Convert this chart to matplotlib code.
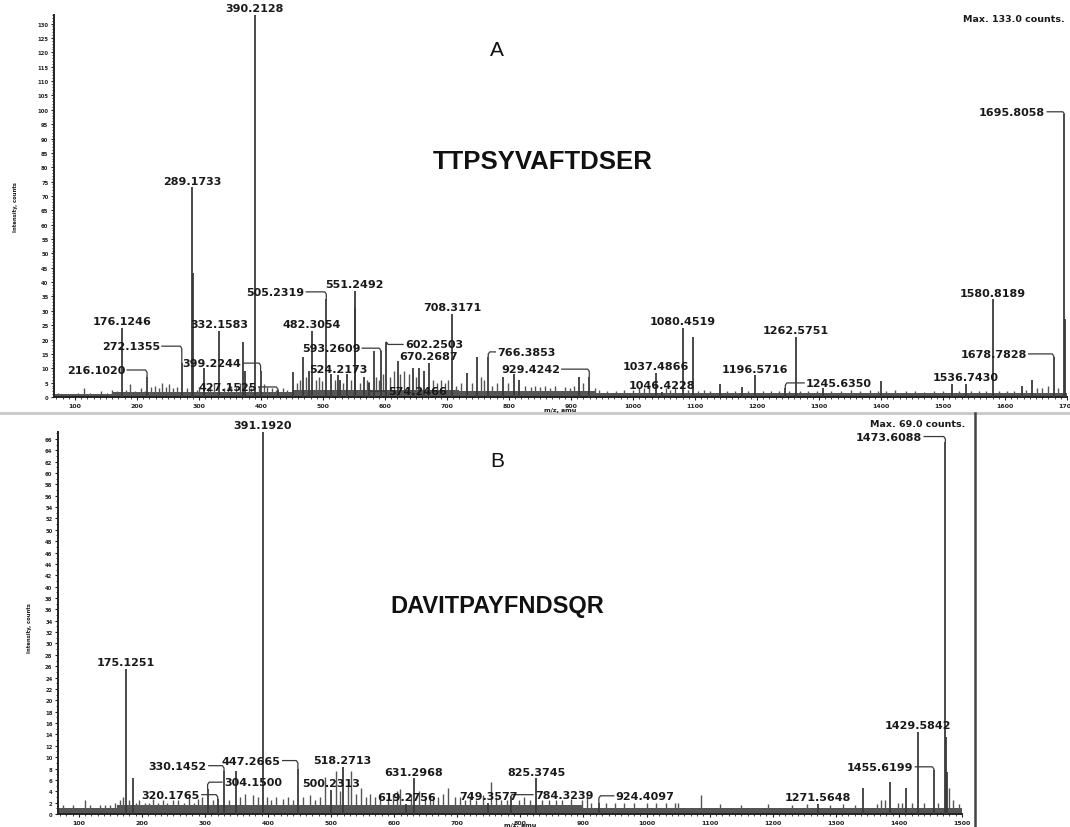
import matplotlib
matplotlib.use('Agg')
import matplotlib.pyplot as plt
from matplotlib.ticker import MultipleLocator

W, H = 1070, 828

# ---------------- Panel A : TTPSYVAFTDSER ----------------
peptideA = "TTPSYVAFTDSER"
maxA = 133.0
peaksA_mz = [176.1246, 216.1020, 272.1355, 289.1733, 290.17, 307.2, 332.1583, 370.2, 374.2,
             390.2128, 399.2244, 427.1525, 452.2, 468.3, 477.2, 482.3054, 505.2319, 513.3,
             524.2173, 527.3, 538.3, 551.2492, 552.25, 566.3, 574.2466, 582.3, 593.2609,
             602.2503, 620.3, 644.3, 655.3, 663.3, 670.2687, 708.3171, 732.4, 748.4,
             766.3853, 790.4, 808.4, 816.4, 912.4, 929.4242, 1037.4866, 1046.4228,
             1080.4519, 1096.5, 1140.5, 1176.5, 1196.5716, 1245.6350, 1262.5751, 1306.6,
             1400.6, 1514.7, 1536.7430, 1580.8189, 1626.8, 1643.8, 1678.7828, 1695.8058,
             1696.81]
peaksA_int = [24.0, 7.0, 12.0, 73.0, 43.0, 10.0, 23.0, 19.0, 9.0,
              133.0, 9.0, 2.5, 8.7, 14.0, 9.0, 23.0, 34.0, 8.0,
              7.5, 6.0, 8.0, 37.0, 31.0, 7.0, 5.0, 16.0, 16.0,
              19.0, 12.5, 10.0, 10.0, 9.0, 12.0, 29.0, 8.5, 14.0,
              14.0, 7.0, 8.0, 6.0, 7.0, 7.0, 8.5, 1.8,
              24.0, 21.0, 4.5, 3.5, 7.5, 3.0, 21.0, 3.0,
              5.5, 4.5, 4.5, 34.0, 4.0, 6.0, 14.0, 98.5,
              27.0]
noiseA_mz = [72, 84, 95, 104, 115, 124, 133, 142, 151, 160, 168, 182, 189, 196, 206, 212, 222,
             229, 235, 240, 246, 251, 258, 264, 280, 296, 300, 314, 318, 324, 340, 346, 352,
             360, 366, 380, 384, 396, 404, 410, 418, 424, 435, 442, 458, 463, 473, 488, 494,
             499, 519, 532, 545, 559, 571, 586, 590, 597, 608, 614, 624, 630, 638, 650, 677,
             684, 690, 696, 702, 715, 722, 740, 754, 760, 772, 780, 798, 825, 835, 842, 850,
             858, 866, 874, 890, 898, 905, 920, 938, 945, 958, 972, 985, 1000, 1010, 1018,
             1026, 1053, 1060, 1068, 1088, 1105, 1115, 1124, 1152, 1165, 1185, 1210, 1222,
             1235, 1252, 1270, 1282, 1296, 1320, 1335, 1352, 1366, 1382, 1395, 1408, 1423,
             1440, 1455, 1470, 1486, 1500, 1526, 1545, 1558, 1570, 1590, 1604, 1615, 1634,
             1652, 1660, 1670, 1686]
noiseA_int = [1.5, 1.2, 1.0, 1.5, 3.0, 1.5, 1.2, 2.0, 1.5, 2.5, 2.0, 2.5, 4.5, 2.0, 3.0, 2.0, 3.5,
              4.0, 3.0, 5.0, 3.5, 4.5, 3.0, 3.5, 3.0, 2.5, 3.5, 3.0, 4.0, 5.0, 3.0, 3.5, 4.0,
              3.5, 5.0, 4.0, 3.0, 4.0, 4.5, 3.5, 3.0, 2.5, 3.0, 2.5, 5.0, 6.0, 7.0, 6.0, 7.0,
              5.5, 6.0, 5.0, 6.0, 5.0, 6.0, 7.0, 6.0, 8.0, 7.0, 9.0, 8.0, 9.0, 8.0, 7.0, 6.0,
              5.0, 6.0, 5.0, 6.0, 4.0, 5.0, 5.0, 7.0, 6.0, 4.0, 5.0, 5.0, 4.0, 3.5, 4.0, 3.5,
              4.0, 3.0, 4.0, 3.5, 3.0, 4.0, 5.0, 3.0, 2.5, 2.0, 2.0, 2.5, 2.5, 3.0, 3.0,
              3.5, 3.0, 2.5, 3.0, 2.5, 2.0, 2.5, 2.0, 2.0, 2.0, 2.0, 2.0, 2.0,
              2.0, 2.0, 2.0, 2.0, 2.0, 2.0, 2.0, 2.5, 2.0, 2.5, 2.0, 2.0, 2.5,
              2.0, 2.0, 1.8, 2.0, 2.0, 2.0, 2.0, 2.0, 2.0, 2.0, 2.0, 2.0, 2.5,
              3.0, 3.0, 4.0, 3.0]
baseA_mz = [66, 160, 450, 720, 940, 1700]
baseA_int = [1.0, 1.6, 2.4, 2.0, 1.3, 1.3]
labelsA = ['176.1246', '216.1020', '272.1355', '289.1733', '332.1583', '390.2128', '399.2244',
           '427.1525', '482.3054', '505.2319', '524.2173', '551.2492', '574.2466', '593.2609',
           '602.2503', '670.2687', '708.3171', '766.3853', '929.4242', '1037.4866',
           '1046.4228', '1080.4519', '1196.5716', '1245.6350', '1262.5751', '1536.7430',
           '1580.8189', '1678.7828', '1695.8058']

# ---------------- Panel B : DAVITPAYFNDSQR ----------------
peptideB = "DAVITPAYFNDSQR"
maxB = 69.0
peaksB_mz = [175.1251, 186.1, 304.1500, 320.1765, 330.1452, 349.2, 391.1920, 447.2665,
             500.2313, 518.2713, 619.2756, 631.2968, 749.3577, 784.3239, 825.3745, 924.4097,
             1271.5648, 1342.6, 1385.6, 1411.6, 1429.5842, 1455.6199, 1473.6088, 1474.61,
             1475.61]
peaksB_int = [25.5, 6.3, 4.4, 2.6, 7.5, 7.6, 69.0, 8.0,
              4.3, 8.3, 1.8, 6.3, 2.0, 3.0, 6.3, 2.0,
              1.8, 4.5, 5.7, 4.5, 14.5, 7.8, 65.5, 13.5,
              7.4]
noiseB_mz = [75, 82, 90, 98, 110, 118, 126, 134, 142, 150, 158, 165, 170, 180, 190, 196, 205,
             212, 218, 226, 234, 240, 250, 258, 266, 275, 282, 289, 296, 312, 338, 356, 364,
             376, 384, 398, 405, 412, 423, 432, 440, 456, 466, 474, 482, 491, 508, 514, 526,
             532, 540, 548, 556, 562, 570, 578, 590, 598, 604, 609, 626, 640, 648, 656, 662,
             670, 678, 685, 696, 704, 712, 720, 730, 740, 753, 762, 770, 778, 798, 806, 815,
             835, 845, 856, 866, 880, 897, 905, 912, 935, 950, 965, 980, 1000, 1015, 1030,
             1045, 1050, 1087, 1116, 1150, 1193, 1230, 1255, 1290, 1312, 1330, 1366, 1372,
             1378, 1399, 1405, 1420, 1440, 1462, 1479, 1486, 1495]
noiseB_int = [1.5, 1.0, 1.5, 1.0, 2.5, 1.5, 1.0, 1.5, 1.5, 1.5, 2.0, 2.5, 3.0, 2.5, 2.0, 2.5, 2.0,
              2.0, 2.6, 2.0, 2.5, 2.0, 2.5, 2.5, 2.0, 3.0, 2.0, 2.6, 3.0, 2.5, 2.5, 3.0, 3.5,
              3.4, 3.0, 3.0, 2.5, 3.0, 2.6, 3.0, 2.5, 3.0, 3.4, 2.5, 3.0, 6.5, 7.6, 4.0, 5.0,
              7.6, 3.5, 4.5, 3.0, 3.5, 3.0, 3.5, 3.0, 3.5, 4.0, 4.4, 3.5, 4.0, 3.0, 3.5, 3.0,
              3.0, 3.5, 4.5, 3.0, 3.0, 2.5, 3.0, 2.5, 3.4, 5.6, 3.0, 2.5, 2.5, 2.5, 3.0, 2.5,
              2.5, 2.5, 2.5, 2.5, 2.6, 2.5, 3.5, 2.0, 2.0, 2.0, 2.0, 2.0, 2.0, 2.0, 2.0,
              2.0, 2.0, 3.4, 1.8, 1.5, 1.8, 1.5, 1.8, 1.5, 1.8, 1.5, 1.8, 2.5,
              2.5, 2.0, 2.0, 2.0, 2.0, 2.0, 4.5, 2.5, 1.8]
baseB_mz = [67, 160, 900, 1500]
baseB_int = [1.0, 1.5, 1.0, 1.0]
labelsB = ['175.1251', '304.1500', '320.1765', '330.1452', '391.1920', '447.2665', '500.2313',
           '518.2713', '619.2756', '631.2968', '749.3577', '784.3239', '825.3745', '924.4097',
           '1271.5648', '1429.5842', '1455.6199', '1473.6088']

assert len(peaksA_mz) == len(peaksA_int) and len(noiseA_mz) == len(noiseA_int)
assert len(peaksB_mz) == len(peaksB_int) and len(noiseB_mz) == len(noiseB_int)

# ---------------- layout (label placement) ----------------
# side 'L': text to the left of the peak (x = right end of text); 'R': text to the right
leaderA = {'216.1020': ('L', 181, 9.4), '272.1355': ('L', 237, 17.7),
           '399.2244': ('L', 368, 11.8), '427.1525': ('L', 393, 3.5),
           '505.2319': ('L', 470, 36.6), '574.2466': ('R', 605, 2.0),
           '593.2609': ('L', 560, 17.0), '602.2503': ('R', 632, 18.3),
           '766.3853': ('R', 781, 15.7), '929.4242': ('L', 882, 9.7),
           '1245.6350': ('R', 1279, 4.9), '1678.7828': ('L', 1635, 15.0),
           '1695.8058': ('L', 1665, 99.3)}
leaderB = {'320.1765': ('L', 292, 3.4), '330.1452': ('L', 303, 8.5),
           '447.2665': ('L', 420, 9.4), '1455.6199': ('L', 1423, 8.3),
           '1473.6088': ('L', 1437, 66.4), '304.1500': ('R', 330, 5.6),
           '784.3239': ('R', 823, 3.4), '924.4097': ('R', 951, 3.2)}

PEAK_C = '#3a3a3a'
TXT_C = '#1a1a1a'
LBL_FONT = dict(family='DejaVu Sans', fontweight='bold', fontsize=8, color=TXT_C)

plt.rcParams['font.family'] = ['DejaVu Sans']
fig = plt.figure(figsize=(W / 100, H / 100), dpi=100)


def px_axes(l, t, r, b):
    return fig.add_axes([l / W, 1 - b / H, (r - l) / W, (b - t) / H])


def draw_panel(ax, pmz, pint, nmz, nint, bmz, bint, labels, leaders, xlim, ylim,
               ymaj, ymin):
    ax.set_xlim(*xlim)
    ax.set_ylim(*ylim)
    ax.fill_between(bmz, 0, bint, step='post', color='#555555', lw=0, zorder=1)
    ax.vlines(nmz, 0, nint, color='#555555', lw=1.0, zorder=2)
    ax.vlines(pmz, 0, pint, color=PEAK_C, lw=1.3, zorder=3)
    lookup = {f"{m:.4f}": v for m, v in zip(pmz, pint)}
    for lab in labels:
        mz = float(lab)
        h = lookup[lab]
        if lab in leaders:
            side, tx, ty = leaders[lab]
            if side == 'L':
                ax.text(tx, ty, lab, ha='right', va='center', zorder=5, **LBL_FONT)
                xs = [tx + 3, mz - 2.5, mz, mz]
            else:
                ax.text(tx, ty, lab, ha='left', va='center', zorder=5, **LBL_FONT)
                xs = [tx - 3, mz + 2.5, mz, mz]
            dy = (ylim[1] - ylim[0]) * 0.006
            ys = [ty, ty, ty - dy if h < ty else ty + dy, min(h, ylim[1])]
            ax.plot(xs, ys, color=PEAK_C, lw=0.9, zorder=4)
        else:
            ax.annotate(lab, (mz, min(h, ylim[1])), xytext=(0, 1.2),
                        textcoords='offset points', ha='center', va='bottom',
                        zorder=5, annotation_clip=False, **LBL_FONT)
    for s in ('top', 'right'):
        ax.spines[s].set_visible(False)
    for s in ('left', 'bottom'):
        ax.spines[s].set_linewidth(1.4)
        ax.spines[s].set_color('#222222')
    ax.xaxis.set_major_locator(MultipleLocator(100))
    ax.xaxis.set_minor_locator(MultipleLocator(10))
    ax.yaxis.set_major_locator(MultipleLocator(ymaj))
    ax.yaxis.set_minor_locator(MultipleLocator(ymin))
    ax.tick_params(axis='x', which='major', length=2.5, width=0.8, pad=1.5,
                   labelsize=4.5, colors='#222222')
    ax.tick_params(axis='y', which='major', length=2.5, width=0.8, pad=1.5,
                   labelsize=3.8, colors='#222222')
    ax.tick_params(which='minor', length=1.3, width=0.6, colors='#222222')
    for t in ax.get_xticklabels() + ax.get_yticklabels():
        t.set_fontweight('bold')


# panel A
axA = px_axes(54, 16, 1067, 398)
draw_panel(axA, peaksA_mz, peaksA_int, noiseA_mz, noiseA_int, baseA_mz, baseA_int,
           labelsA, leaderA, (66, 1700), (0, maxA), 5, 1)
axA.set_xticks(range(100, 1701, 100))

# panel B
axB = px_axes(58, 433, 962, 815)
draw_panel(axB, peaksB_mz, peaksB_int, noiseB_mz, noiseB_int, baseB_mz, baseB_int,
           labelsB, leaderB, (67, 1500), (0, 67.2), 2, 1)
axB.set_xticks(range(100, 1501, 100))


def ftext(x, y, s, **kw):
    fig.text(x / W, 1 - y / H, s, **kw)


# headers and sequences
ftext(497, 50, 'A', ha='center', va='center', family='Liberation Sans', fontsize=15, color='#111111')
ftext(543, 162, peptideA, ha='center', va='center', family='Liberation Sans',
      fontweight='bold', fontsize=18.5, color='#111111')
ftext(497, 462, 'B', ha='center', va='center', family='Liberation Sans', fontsize=15, color='#111111')
ftext(497, 607, peptideB, ha='center', va='center', family='Liberation Sans',
      fontweight='bold', fontsize=17, color='#111111')

ftext(1065, 19, f'Max. {maxA:.1f} counts.', ha='right', va='center', family='DejaVu Sans',
      fontweight='bold', fontsize=6.8, color=TXT_C)
ftext(965, 425, f'Max. {maxB:.1f} counts.', ha='right', va='center', family='DejaVu Sans',
      fontweight='bold', fontsize=6.8, color=TXT_C)

# axis titles
ftext(16, 207, 'Intensity, counts', ha='center', va='center', rotation=90,
      fontsize=3.8, fontweight='bold', color=TXT_C)
ftext(30, 628, 'Intensity, counts', ha='center', va='center', rotation=90,
      fontsize=3.8, fontweight='bold', color=TXT_C)
ftext(560, 411, 'm/z, amu', ha='center', va='center', fontsize=4.5, fontweight='bold', color=TXT_C)
ftext(520, 826, 'm/z, amu', ha='center', va='center', fontsize=4.5, fontweight='bold', color=TXT_C)

# panel separator and right frame line
fig.add_artist(plt.Line2D([0, 1], [1 - 414 / H, 1 - 414 / H], transform=fig.transFigure,
                          color='#c8c8c8', lw=2))
fig.add_artist(plt.Line2D([975 / W, 975 / W], [1 - 414 / H, 0], transform=fig.transFigure,
                          color='#444444', lw=1.8))

fig.savefig('out.png', dpi=100, facecolor='white')
